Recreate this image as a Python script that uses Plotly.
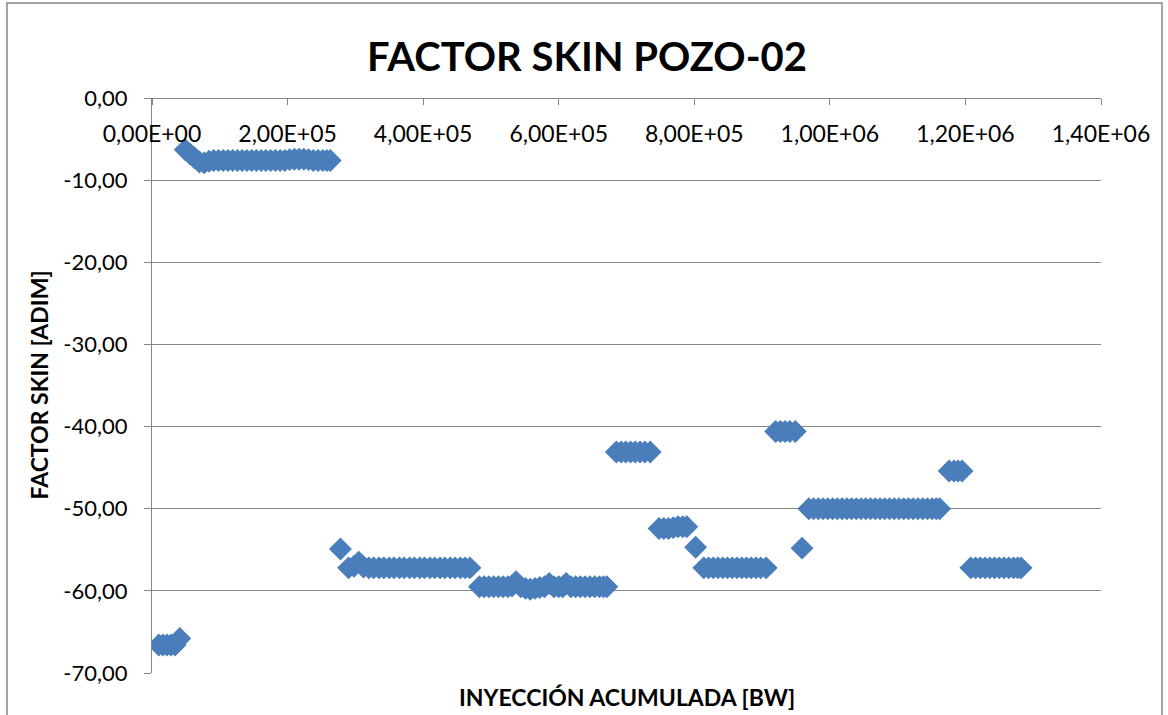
import plotly.graph_objects as go

# Cumulative injection (thousands of BW) and skin factor
inyeccion_kbw = [
    10, 16, 22, 28, 34, 41,
    49, 56, 63, 70, 77, 84, 91, 98, 105, 112, 119, 126, 133, 140, 147, 154,
    161, 168, 175, 182, 189, 196, 203, 210, 217, 224, 231, 238, 245, 252, 258, 263,
    278,
    290, 298, 305, 312, 320, 327, 335, 342, 350, 357, 365, 372, 380, 387, 395,
    402, 410, 417, 425, 432, 440, 447, 455, 462, 469,
    483, 490, 497, 504, 511, 518, 525, 531, 537, 544, 551, 558, 565, 572, 579,
    586, 593, 600, 606, 611, 618, 625, 632, 639, 646, 653, 660, 666, 671,
    685, 692, 699, 706, 713, 720, 727, 735,
    748, 755, 762, 769, 776, 783, 789,
    802,
    814, 821, 828, 835, 842, 849, 856, 863, 870, 877, 884, 891, 898, 906,
    920, 927, 934, 941, 949,
    959,
    969, 976, 983, 990, 997, 1004, 1011, 1018, 1025, 1032, 1039, 1046, 1053,
    1060, 1067, 1074, 1081, 1088, 1095, 1102, 1109, 1116, 1123, 1130, 1137,
    1144, 1151, 1157, 1162,
    1176, 1183, 1189, 1195,
    1208, 1215, 1222, 1229, 1236, 1243, 1250, 1257, 1264, 1271, 1277, 1282,
]

factor_skin = [
    -66.6, -66.6, -66.6, -66.6, -66.6, -65.8,
    -6.3, -6.8, -7.3, -7.8, -7.9, -7.7, -7.6, -7.6, -7.6, -7.6, -7.6, -7.6, -7.6, -7.6, -7.6, -7.6,
    -7.6, -7.6, -7.6, -7.6, -7.6, -7.6, -7.5, -7.45, -7.45, -7.45, -7.5, -7.6, -7.6, -7.6, -7.6, -7.6,
    -54.9,
    -57.2, -57.0, -56.5, -57.1, -57.2, -57.2, -57.2, -57.2, -57.2, -57.2, -57.2, -57.2, -57.2, -57.2, -57.2,
    -57.2, -57.2, -57.2, -57.2, -57.2, -57.2, -57.2, -57.2, -57.2, -57.2,
    -59.5, -59.5, -59.5, -59.5, -59.5, -59.5, -59.5, -59.4, -58.9, -59.5, -59.7, -59.8, -59.7, -59.6, -59.5,
    -59.1, -59.5, -59.5, -59.5, -59.1, -59.5, -59.5, -59.5, -59.5, -59.5, -59.5, -59.5, -59.5, -59.5,
    -43.1, -43.1, -43.1, -43.1, -43.1, -43.1, -43.1, -43.1,
    -52.4, -52.4, -52.4, -52.3, -52.2, -52.2, -52.2,
    -54.7,
    -57.2, -57.2, -57.2, -57.2, -57.2, -57.2, -57.2, -57.2, -57.2, -57.2, -57.2, -57.2, -57.2, -57.2,
    -40.6, -40.6, -40.6, -40.6, -40.6,
    -54.8,
    -50.0, -50.0, -50.0, -50.0, -50.0, -50.0, -50.0, -50.0, -50.0, -50.0, -50.0, -50.0, -50.0,
    -50.0, -50.0, -50.0, -50.0, -50.0, -50.0, -50.0, -50.0, -50.0, -50.0, -50.0, -50.0,
    -50.0, -50.0, -50.0, -50.0,
    -45.4, -45.4, -45.4, -45.4,
    -57.2, -57.2, -57.2, -57.2, -57.2, -57.2, -57.2, -57.2, -57.2, -57.2, -57.2, -57.2,
]

x_tick_vals = [0, 200000, 400000, 600000, 800000, 1000000, 1200000, 1400000]
x_tick_text = ["0,00E+00", "2,00E+05", "4,00E+05", "6,00E+05", "8,00E+05",
               "1,00E+06", "1,20E+06", "1,40E+06"]
y_tick_vals = [0, -10, -20, -30, -40, -50, -60, -70]
y_tick_text = ["0,00", "-10,00", "-20,00", "-30,00", "-40,00", "-50,00", "-60,00", "-70,00"]

title_text = "FACTOR SKIN POZO-02"
x_title = "INYECCIÓN ACUMULADA [BW]"
y_title = "FACTOR SKIN [ADIM]"

FONT = "Lato"
AXIS_GRAY = "#868686"
MARKER_BLUE = "#4A7EBB"

x_values = [v * 1000 for v in inyeccion_kbw]

fig = go.Figure()
fig.add_trace(go.Scatter(
    x=x_values, y=factor_skin, mode="markers",
    marker=dict(symbol="diamond", size=16, color=MARKER_BLUE,
                line=dict(color=MARKER_BLUE, width=1.5)),
    showlegend=False,
))

W, H = 1168, 715
L, R, T, B = 152, 67, 98, 42
pw, ph = W - L - R, H - T - B

def px_to_paper_x(px):
    return (px - L) / pw

def px_to_paper_y(py):
    return (H - B - py) / ph

fig.update_layout(
    width=W, height=H,
    margin=dict(l=L, r=R, t=T, b=B, pad=0),
    paper_bgcolor="white", plot_bgcolor="white",
    font=dict(family=FONT, color="black"),
    title=dict(text="<b>" + title_text + "</b>", x=0.5026, xanchor="center",
               y=1 - 57 / H, yanchor="middle", yref="container",
               font=dict(family=FONT, size=40, color="black")),
    xaxis=dict(
        range=[0, 1400000], tickvals=x_tick_vals, ticktext=x_tick_text,
        side="bottom", anchor="free", position=1,
        showline=True, linecolor=AXIS_GRAY, linewidth=1.3,
        ticks="outside", ticklen=6, tickcolor=AXIS_GRAY, tickwidth=1.3,
        showgrid=False, zeroline=False,
        tickfont=dict(family=FONT, size=23, color="black"),
        ticklabelstandoff=9,
    ),
    yaxis=dict(
        range=[-70, 0], tickvals=y_tick_vals, ticktext=y_tick_text,
        showline=True, linecolor=AXIS_GRAY, linewidth=1.3,
        ticks="outside", ticklen=7, tickcolor=AXIS_GRAY, tickwidth=1.3,
        showgrid=True, gridcolor=AXIS_GRAY, gridwidth=1.3, zeroline=False,
        tickfont=dict(family=FONT, size=22, color="black"),
        ticklabelstandoff=12,
    ),
    annotations=[
        dict(text="<b>" + x_title + "</b>", xref="paper", yref="paper",
             x=0.5, y=px_to_paper_y(697), xanchor="center", yanchor="middle",
             showarrow=False, font=dict(family=FONT, size=23, color="black")),
        dict(text="<b>" + y_title + "</b>", xref="paper", yref="paper",
             x=px_to_paper_x(38), y=0.5, xanchor="center", yanchor="middle",
             textangle=-90, showarrow=False,
             font=dict(family=FONT, size=23, color="black")),
    ],
    shapes=[
        dict(type="rect", xref="paper", yref="paper",
             x0=px_to_paper_x(7), x1=px_to_paper_x(1162),
             y0=px_to_paper_y(740), y1=px_to_paper_y(3),
             line=dict(color=AXIS_GRAY, width=1.5), fillcolor="rgba(0,0,0,0)",
             layer="below"),
    ],
)

fig.write_html(
    "out.html",
    config={"displayModeBar": False},
    post_script="document.body.style.margin='0';document.body.style.overflow='hidden';",
)
